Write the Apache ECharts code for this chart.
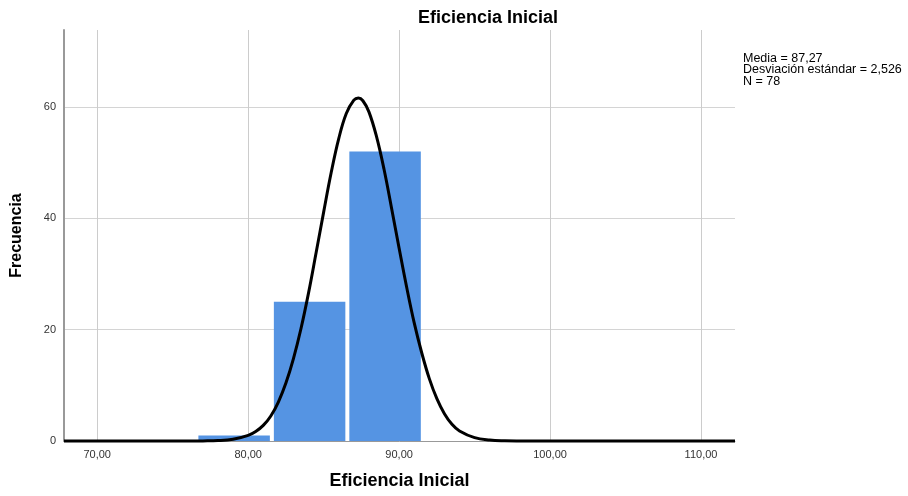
<!DOCTYPE html>
<html>
<head>
<meta charset="utf-8">
<script src="https://cdn.jsdelivr.net/npm/echarts@6/dist/echarts.min.js"></script>
<style>
  html, body { margin: 0; padding: 0; background: #fff; }
  #chart { width: 908px; height: 496px; }
</style>
</head>
<body>
<div id="chart"></div>
<script>
// histogram bins (Eficiencia Inicial)
const binStart = [76.57, 81.57, 86.57]
const binEnd = [81.57, 86.57, 91.57]
const freq = [1, 25, 52]

// normal curve
const curveX = [67.8, 70, 72, 74, 76, 77, 78, 79, 80, 80.5, 81, 81.5, 82, 82.5, 83, 83.5, 84, 84.5, 85, 85.5,
  86, 86.5, 87, 87.3, 87.6, 88, 88.5, 89, 89.5, 90, 90.5, 91, 91.5, 92, 92.5, 93, 93.5, 94, 95, 96, 97, 98, 100, 105, 112.25]
const curveY = [0, 0, 0, 0, 0, 0.02, 0.07, 0.3, 1.0, 1.7, 2.8, 4.5, 7.0, 10.4, 14.8, 20.2, 26.6, 33.8, 41.1, 48.2,
  54.3, 58.8, 61.2, 61.6, 61.1, 59.1, 54.7, 48.8, 41.8, 34.6, 27.6, 21.2, 15.8, 11.2, 7.6, 4.9, 3.0, 1.8, 0.6, 0.17, 0.04, 0.01, 0, 0, 0]

const xTicks = [70, 80, 90, 100, 110]
const yTicks = [0, 20, 40, 60]
const statsLines = ['Media = 87,27', 'Desviación estándar = 2,526', 'N = 78']

const font = '"Liberation Sans", Arial, sans-serif'
const chart = echarts.init(document.getElementById('chart'))

const option = {
  animation: false,
  textStyle: { fontFamily: font },
  title: {
    text: 'Eficiencia Inicial',
    left: 483,
    textAlign: 'center',
    top: 4,
    textStyle: { fontFamily: font, fontSize: 18, fontWeight: 'bold', color: '#000' }
  },
  grid: { left: 64, right: 173, top: 30, bottom: 55, outerBoundsMode: 'none' },
  xAxis: {
    type: 'value',
    min: 67.8,
    max: 112.25,
    name: 'Eficiencia Inicial',
    nameLocation: 'middle',
    nameGap: 31,
    nameTextStyle: { fontFamily: font, fontSize: 18, fontWeight: 'bold', color: '#000' },
    axisLine: { show: true, lineStyle: { color: '#999', width: 1 } },
    axisTick: { show: false, customValues: xTicks },
    axisLabel: {
      customValues: xTicks,
      color: '#333',
      fontSize: 11,
      margin: 8,
      formatter: v => v.toFixed(2).replace('.', ',')
    },
    splitLine: { show: true, lineStyle: { color: '#cccccc', width: 1 } }
  },
  yAxis: {
    type: 'value',
    min: 0,
    max: 73.8,
    name: 'Frecuencia',
    nameLocation: 'middle',
    nameGap: 39,
    nameTextStyle: { fontFamily: font, fontSize: 16, fontWeight: 'bold', color: '#000' },
    axisLine: { show: true, lineStyle: { color: '#999', width: 2 } },
    axisTick: { show: false, customValues: yTicks },
    axisLabel: { customValues: yTicks, color: '#333', fontSize: 11, margin: 8 },
    splitLine: { show: true, lineStyle: { color: '#d4d4d4', width: 1 } }
  },
  graphic: [{
    type: 'text',
    left: 743,
    top: 52,
    style: {
      text: statsLines.join('\n'),
      font: '12.5px ' + font,
      lineHeight: 11.5,
      fill: '#000'
    }
  }],
  series: [
    {
      type: 'custom',
      clip: false,
      data: freq.map((f, i) => [binStart[i], binEnd[i], f]),
      renderItem: (params, api) => {
        const p0 = api.coord([api.value(0), 0])
        const p1 = api.coord([api.value(1), api.value(2)])
        return {
          type: 'rect',
          shape: { x: p0[0] + 2, y: p1[1], width: p1[0] - p0[0] - 4, height: p0[1] - p1[1] },
          style: { fill: '#5594e3' }
        }
      }
    },
    {
      type: 'line',
      clip: false,
      data: curveX.map((x, i) => [x, curveY[i]]),
      showSymbol: false,
      smooth: 0.4,
      lineStyle: { color: '#000', width: 3 },
      z: 5
    }
  ]
}

chart.setOption(option)
</script>
</body>
</html>
